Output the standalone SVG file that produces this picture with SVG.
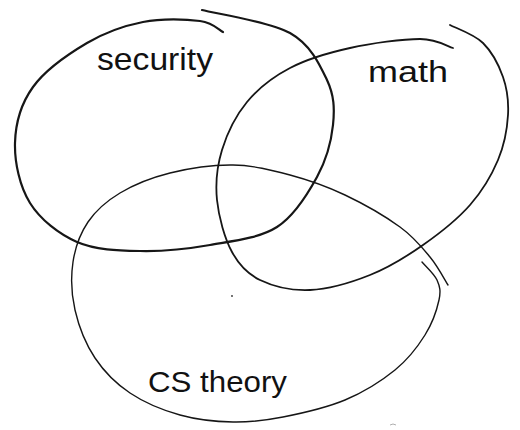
<svg xmlns="http://www.w3.org/2000/svg" width="520" height="430" viewBox="0 0 520 430">
<style>
.ring{fill:none;stroke:#161616;stroke-linecap:round;stroke-linejoin:round}
.lbl{font-family:"Liberation Sans","DejaVu Sans",sans-serif;fill:#111}
</style>
<rect width="520" height="430" fill="#ffffff"/>
<g id="security">
<path class="ring" stroke-width="2.2" d="M202,10 C216.7,13.8 269.2,21.3 290,33 C310.8,44.7 319.8,64.7 327,80 C334.2,95.3 334.7,108.8 333,125 C331.3,141.2 326.3,160 317,177 C307.7,194 294.8,215.7 277,227 C259.2,238.3 232.8,241 210,245 C187.2,249 162.2,251.5 140,251 C117.8,250.5 95.3,250 77,242 C58.7,234 40.3,219.5 30,203 C19.7,186.5 14.5,162.3 15,143 C15.5,123.7 21,103.7 33,87 C45,70.3 68.7,53.8 87,43 C105.3,32.2 124.2,25.7 143,22 C161.8,18.3 186.7,19.3 200,21 C213.3,22.7 219.2,30.2 223,32"/>
<text class="lbl" x="97" y="70" font-size="32" textLength="116" lengthAdjust="spacingAndGlyphs">security</text>
</g>
<g id="math">
<path class="ring" stroke-width="1.8" d="M450,25 C455.5,28 474.2,34.3 483,43 C491.8,51.7 498.8,65 503,77 C507.2,89 508.8,101.2 508,115 C507.2,128.8 504.3,145 498,160 C491.7,175 482.5,190.8 470,205 C457.5,219.2 439.7,233.3 423,245 C406.3,256.7 388.8,267.5 370,275 C351.2,282.5 328.3,289.2 310,290 C291.7,290.8 273,286.3 260,280 C247,273.7 239.2,265.3 232,252 C224.8,238.7 218.7,217 217,200 C215.3,183 217,166.3 222,150 C227,133.7 235.7,115.7 247,102 C258.3,88.3 272.8,77 290,68 C307.2,59 328.3,52.8 350,48 C371.7,43.2 402.8,39 420,39 C437.2,39 447.5,46.5 453,48"/>
<text class="lbl" x="368" y="82" font-size="30" textLength="80" lengthAdjust="spacingAndGlyphs">math</text>
</g>
<g id="cs-theory">
<path class="ring" stroke-width="1.4" d="M422,262 C424.5,265 434.2,273.7 437,280 C439.8,286.3 441,290.8 439,300 C437,309.2 432.3,323.3 425,335 C417.7,346.7 408.3,359.2 395,370 C381.7,380.8 363.7,392.2 345,400 C326.3,407.8 301.7,413.3 283,417 C264.3,420.7 250.2,422.3 233,422 C215.8,421.7 197.2,419.8 180,415 C162.8,410.2 144.2,402.5 130,393 C115.8,383.5 104.2,371.8 95,358 C85.8,344.2 78.7,326 75,310 C71.3,294 70.8,276.7 73,262 C75.2,247.3 80.2,233.5 88,222 C95.8,210.5 106.3,201.2 120,193 C133.7,184.8 151.2,177.7 170,173 C188.8,168.3 213,164.7 233,165 C253,165.3 271.3,170 290,175 C308.7,180 326.7,186.3 345,195 C363.3,203.7 385.8,216.7 400,227 C414.2,237.3 422,247.3 430,257 C438,266.7 445,280.3 448,285"/>
<text class="lbl" x="148" y="392" font-size="30" textLength="139" lengthAdjust="spacingAndGlyphs">CS theory</text>
</g>
<g id="connectors"></g>
<circle cx="232" cy="296" r="0.9" fill="#333"/>
<path d="M390,425 l3,-1 l3,1" fill="none" stroke="#999" stroke-width="0.8"/>
</svg>
